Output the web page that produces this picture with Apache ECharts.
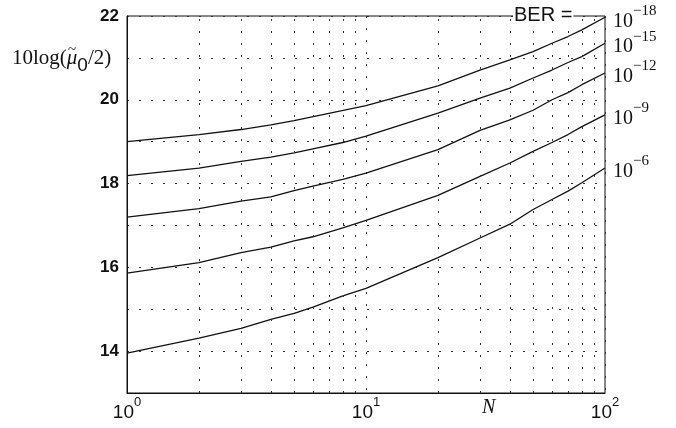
<!DOCTYPE html>
<html>
<head>
<meta charset="utf-8">
<script src="https://cdn.jsdelivr.net/npm/echarts@6/dist/echarts.min.js"></script>
<style>
html,body{margin:0;padding:0;background:#fff;}
#c{width:676px;height:428px;}
</style>
</head>
<body>
<div id="c"></div>
<script>
// ---- data ----
var berLabels = ['\u221218', '\u221215', '\u221212', '\u22129', '\u22126'];
var ber18 = [[1,19.0],[2,19.17],[3,19.29],[4,19.40],[5,19.50],[10,19.86],[20,20.33],[30,20.71],[40,20.95],[50,21.15],[60,21.35],[70,21.51],[80,21.67],[100,21.97]];
var ber15 = [[1,18.19],[2,18.37],[3,18.53],[4,18.63],[5,18.73],[6,18.83],[8,18.98],[10,19.13],[20,19.68],[30,20.04],[40,20.28],[50,20.52],[60,20.71],[70,20.89],[80,21.03],[100,21.35]];
var ber12 = [[1,17.2],[2,17.40],[3,17.58],[4,17.68],[5,17.83],[6,17.94],[8,18.10],[10,18.25],[20,18.81],[30,19.27],[40,19.52],[50,19.75],[60,20.0],[70,20.17],[80,20.36],[100,20.64]];
var ber9  = [[1,15.86],[2,16.11],[3,16.35],[4,16.48],[5,16.63],[6,16.73],[8,16.94],[10,17.12],[20,17.72],[30,18.17],[40,18.49],[50,18.77],[60,18.98],[70,19.17],[80,19.36],[100,19.64]];
var ber6  = [[1,13.95],[2,14.31],[3,14.54],[4,14.76],[5,14.90],[6,15.05],[8,15.32],[10,15.50],[20,16.23],[30,16.70],[40,17.03],[50,17.38],[60,17.62],[70,17.82],[80,18.02],[100,18.37]];
var minorX = [2,3,4,5,6,7,8,9,20,30,40,50,60,70,80,90];
var yTickLabels = [14,16,18,20,22];

var seriesData = [ber18, ber15, ber12, ber9, ber6];

var chart = echarts.init(document.getElementById('c'), null, {renderer:'canvas'});

var dotted = {type:[2,10], color:'#333', width:1};

var series = seriesData.map(function(d, i){
  var s = {
    type:'line',
    data:d,
    symbol:'none',
    silent:true,
    animation:false,
    lineStyle:{color:'#111', width:1.3},
    endLabel:{
      show:true,
      distance:8,
      formatter:function(){ return '{b|10}{s|' + berLabels[i] + '}'; },
      rich:{
        b:{fontFamily:'Liberation Serif', fontSize:20, color:'#111', padding:[8,0,0,0]},
        s:{fontFamily:'Liberation Serif', fontSize:15, color:'#111', verticalAlign:'top'}
      }
    }
  };
  if (i === 0) {
    s.markLine = {
      silent:true,
      symbol:'none',
      animation:false,
      label:{show:false},
      lineStyle:dotted,
      data:minorX.map(function(v){ return {xAxis:v}; })
    };
  }
  return s;
});

chart.setOption({
  backgroundColor:'#fff',
  animation:false,
  grid:{left:127, right:71, top:16, bottom:35, show:true, borderColor:'#111', borderWidth:1, backgroundColor:'transparent'},
  xAxis:{
    type:'log', logBase:10, min:1, max:100,
    axisLine:{show:true, lineStyle:{color:'#111'}},
    axisTick:{show:false},
    splitLine:{show:true, lineStyle:dotted},
    axisLabel:{
      margin:3,
      formatter:function(v){ return '{b|10}{s|' + Math.round(Math.log10(v)) + '}'; },
      rich:{
        b:{fontFamily:'Liberation Sans', fontSize:19, color:'#111', padding:[7,0,0,0]},
        s:{fontFamily:'Liberation Sans', fontSize:13, color:'#111', verticalAlign:'top'}
      }
    }
  },
  yAxis:{
    type:'value', min:13, max:22, interval:1,
    axisLine:{show:true, lineStyle:{color:'#111'}},
    axisTick:{show:false},
    splitLine:{show:true, lineStyle:dotted},
    axisLabel:{
      margin:8,
      fontFamily:'Liberation Sans', fontSize:17, fontWeight:'bold', color:'#111',
      formatter:function(v){ return yTickLabels.indexOf(v) >= 0 ? String(v) : ''; }
    }
  },
  graphic:[
    {type:'text', left:12, top:48, silent:true, style:{
      text:'{a|10log(}{m|\u03bc}{z|0}{a|/2)}',
      rich:{
        a:{fontFamily:'Liberation Serif', fontSize:21, fill:'#111', padding:[0,0,6,0]},
        m:{fontFamily:'Liberation Serif', fontSize:21, fontStyle:'italic', fill:'#111', padding:[0,0,6,0]},
        z:{fontFamily:'Liberation Sans', fontSize:19, fill:'#111', verticalAlign:'bottom'}
      }
    }},
    {type:'text', left:68, top:43, silent:true, style:{
      text:'~', fontFamily:'Liberation Serif', fontSize:15, fill:'#111'
    }},
    {type:'text', left:482, top:398, silent:true, style:{
      text:'N', fontFamily:'Liberation Serif', fontSize:20, fontStyle:'italic', fill:'#111'
    }},
    {type:'text', left:513, top:5, silent:true, z:100, style:{
      text:'BER =', fontFamily:'Liberation Sans', fontSize:20, fill:'#111',
      backgroundColor:'#fff', padding:[0,1,0,1]
    }}
  ],
  series:series
});
</script>
</body>
</html>
